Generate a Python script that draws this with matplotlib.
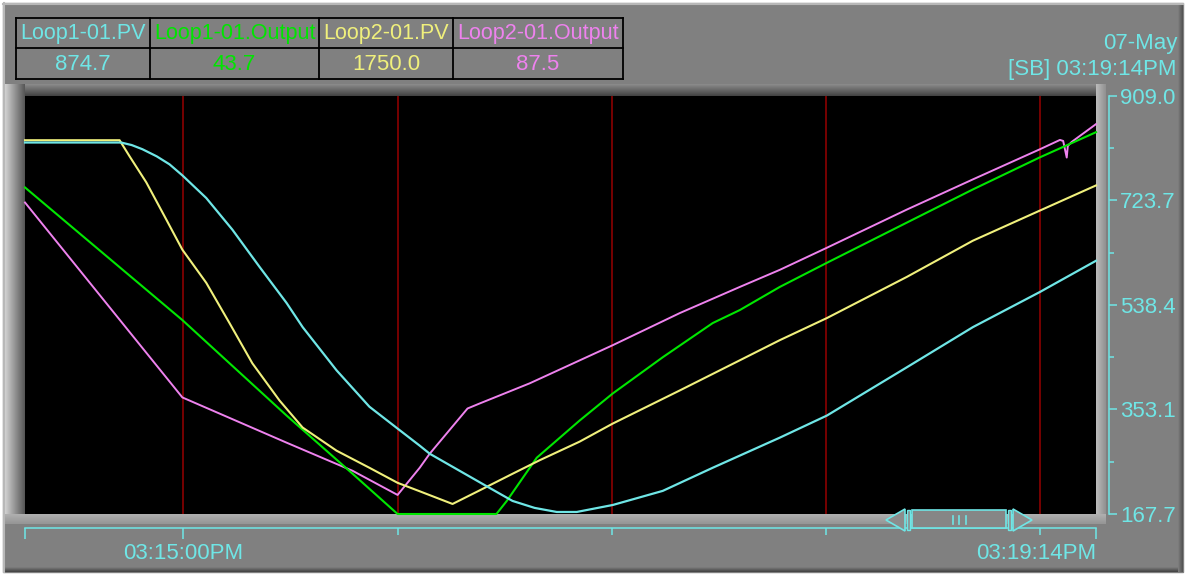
import matplotlib
matplotlib.use("Agg")
import matplotlib.pyplot as plt
import numpy as np
from matplotlib.patches import Rectangle, Polygon
from matplotlib.colors import to_rgb

plt.rcParams['font.family'] = ['Liberation Sans', 'DejaVu Sans']

# pens shown in the header table
pen_names = ['Loop1-01.PV', 'Loop1-01.Output', 'Loop2-01.PV', 'Loop2-01.Output']
pen_values = ['874.7', '43.7', '1750.0', '87.5']
pen_colors = ['#6fe6e6', '#00e600', '#f0f07c', '#ee82ee']

# time is in seconds after 03:15:00PM
t_pv1 = [-44.4, -17.5, -14.5, -11.5, -7.5, -3.9, -0.3, 6.4, 13.7, 21.3, 28.9, 33.4, 42.9, 52.1,
         60.0, 66.2, 69.0, 83.8, 92.2, 98.4, 104.6, 110.2, 120.3, 134.3, 148.3,
         167.1, 180.3, 202.7, 221.2, 240.0, 255.7]
v_pv1 = [826.5, 826.5, 822.0, 814.6, 802.0, 787.8, 768.2, 728.0, 672.0, 606.1, 541.9, 499.1, 422.5, 358.0,
         319.2, 288.9, 274.6, 221.1, 190.9, 178.5, 171.3, 171.3, 183.7, 208.7, 249.7,
         303.1, 342.3, 427.9, 499.1, 561.5, 616.8]

t_out1 = [-44.4, -0.3, 28.9, 47.4, 60.0, 87.7, 90.6, 99.0, 111.0, 120.3, 134.3, 148.3,
          155.9, 167.1, 180.3, 202.7, 221.2, 240.0, 255.7]
v_out1 = [746.8, 511.6, 342.3, 239.0, 167.7, 167.7, 190.9, 267.5, 333.4, 381.5, 445.7, 506.3,
          529.4, 570.4, 613.2, 684.5, 743.3, 800.3, 844.8]

t_pv2 = [-44.4, -17.9, -15.1, -10.4, -4.8, -0.3, 6.4, 12.9, 19.3, 26.9, 33.4, 42.9, 52.1,
         60.0, 66.2, 75.4, 83.0, 92.2, 99.8, 111.0, 120.3, 139.1, 155.9, 167.1, 180.3,
         202.7, 221.2, 240.0, 255.7]
v_pv2 = [830.6, 830.6, 802.1, 755.7, 689.8, 636.4, 577.6, 506.3, 435.0, 369.1, 321.0, 280.0, 249.7,
         223.0, 208.0, 185.5, 209.6, 239.0, 263.0, 296.0, 328.1, 386.9, 440.3, 476.0, 515.2,
         588.2, 652.4, 705.9, 750.4]

t_out2 = [-44.4, -0.3, 28.9, 47.4, 60.0, 66.2, 69.0, 79.6, 83.0, 97.0, 120.3, 139.1, 155.9,
          167.1, 180.3, 202.7, 221.2, 240.0, 245.6, 246.5, 247.5, 247.8, 248.9, 251.2, 255.7]
v_out2 = [720.1, 374.4, 294.2, 244.3, 201.5, 249.7, 274.6, 354.8, 363.7, 399.4, 467.1, 524.1, 570.4,
          600.7, 639.9, 707.6, 761.1, 814.6, 831.1, 829.3, 799.8, 820.4, 827.6, 838.3, 859.1]

y_ticks = [167.7, 353.1, 538.4, 723.7, 909.0]
t_start, t_end = -44.4, 255.7
grid_t = [0, 60, 120, 180, 240]
time_labels = ['03:15:00PM', '03:19:14PM']
date_text = '07-May'
cursor_text = '[SB] 03:19:14PM'

cyan = '#6fe6e6'
fs = 16
W, H = 1186, 575
fig = plt.figure(figsize=(W / 100, H / 100), dpi=100, facecolor='white')


def grad(ax, x0, x1, y0, y1, c0, c1, horizontal=True):
    c = np.linspace(to_rgb(c0), to_rgb(c1), 64)
    img = c[None, :, :] if horizontal else c[:, None, :]
    ax.imshow(img, extent=(x0, x1, y1, y0), origin='upper', aspect='auto',
              interpolation='bilinear', zorder=2)


# background panel with bevels (pixel coordinates)
bg = fig.add_axes([0, 0, 1, 1])
bg.add_patch(Rectangle((3, 3), W - 6, H - 6, color='#808080', zorder=1))
grad(bg, 3, W - 3, H - 8, H - 3, '#808080', '#404040', horizontal=False)
grad(bg, W - 8, W - 3, 3, H - 3, '#808080', '#505050')
grad(bg, 4, 26, 84, 524, '#d8d8d8', '#505050')
grad(bg, 25, 1106, 84, 97, '#8c8c8c', '#3c3c3c', horizontal=False)
grad(bg, 1096, 1106, 84, 524, '#bcbcbc', '#909090')
grad(bg, 4, 1106, 514, 524, '#b0b0b0', '#959595', horizontal=False)
bg.plot([3, W - 3], [4, 4], color='#b8b8b8', lw=1.5, zorder=3)
bg.plot([4, 4], [3, H - 3], color='#b8b8b8', lw=1.5, zorder=3)

# header table
col_x = [16, 150, 319, 453, 623]
row_y = [18, 48, 79]
for i in range(len(pen_names)):
    xc = (col_x[i] + col_x[i + 1]) / 2
    bg.text(xc, (row_y[0] + row_y[1]) / 2 + 1, pen_names[i], color=pen_colors[i],
            fontsize=15.5, ha='center', va='center', zorder=4)
    bg.text(xc, (row_y[1] + row_y[2]) / 2 + 1, pen_values[i], color=pen_colors[i],
            fontsize=fs, ha='center', va='center', zorder=4)
for x in col_x:
    bg.plot([x, x], [row_y[0], row_y[-1]], color='black', lw=1.3, zorder=4)
for y in row_y:
    bg.plot([col_x[0], col_x[-1]], [y, y], color='black', lw=1.3, zorder=4)

bg.text(1177, 43, date_text, color=cyan, fontsize=fs, ha='right', va='center', zorder=4)
bg.text(1177, 69, cursor_text, color=cyan, fontsize=fs, ha='right', va='center', zorder=4)
bg.set_xlim(0, W)
bg.set_ylim(H, 0)
bg.axis('off')

# trend area
ax = fig.add_axes([25 / W, 1 - 514 / H, (1096 - 25) / W, (514 - 96) / H])
ax.set_facecolor('black')
for t in grid_t:
    ax.axvline(t, color='#8b0000', lw=1.2)
ax.plot(t_out2, v_out2, color=pen_colors[3], lw=1.4, clip_on=False)
ax.plot(t_out1, v_out1, color=pen_colors[1], lw=1.5, clip_on=False)
ax.plot(t_pv2, v_pv2, color=pen_colors[2], lw=1.5, clip_on=False)
ax.plot(t_pv1, v_pv1, color=pen_colors[0], lw=1.6, clip_on=False)
ax.set_xlim(t_start, t_end)
ax.set_ylim(y_ticks[0], y_ticks[-1])

for s in ['left', 'top']:
    ax.spines[s].set_visible(False)
ax.spines['right'].set_position(('outward', 9.4))
ax.spines['bottom'].set_position(('outward', 9.9))
for s in ['right', 'bottom']:
    ax.spines[s].set_color(cyan)
    ax.spines[s].set_linewidth(1.1)

ax.yaxis.tick_right()
ax.set_yticks(y_ticks, [f'{v:.1f}' for v in y_ticks])
ax.set_yticks([(a + b) / 2 for a, b in zip(y_ticks[:-1], y_ticks[1:])], minor=True)
ax.tick_params(axis='y', which='major', direction='out', length=5.8, width=1.1, color=cyan,
               labelcolor=cyan, labelsize=fs, pad=2)
ax.tick_params(axis='y', which='minor', direction='out', length=3.6, width=1.1, color=cyan)

ax.set_xticks([t_start, grid_t[0], t_end], ['', time_labels[0], time_labels[1]])
ax.set_xticks(grid_t[1:], minor=True)
ax.tick_params(axis='x', which='major', direction='out', length=8, width=1.1, color=cyan,
               labelcolor=cyan, labelsize=fs, pad=3)
ax.tick_params(axis='x', which='minor', direction='out', length=5, width=1.1, color=cyan)
ax.get_xticklabels()[2].set_ha('right')

# scroll widget drawn on top
ov = fig.add_axes([0, 0, 1, 1])
ov.patch.set_alpha(0)
ov.add_patch(Polygon([(905, 509), (886, 520), (905, 531)], closed=True, fc='#8c8c8c', ec=cyan, lw=1.2))
ov.add_patch(Rectangle((907, 510), 3, 20, fc='#8c8c8c', ec=cyan, lw=1.0))
ov.add_patch(Rectangle((912, 510), 94, 18, fc='#868686', ec=cyan, lw=1.2))
for x in [953, 959, 966]:
    ov.plot([x, x], [516, 524], color=cyan, lw=1.2)
ov.add_patch(Rectangle((1008, 510), 3, 20, fc='#8c8c8c', ec=cyan, lw=1.0))
ov.add_patch(Polygon([(1013, 509), (1032, 520), (1013, 531)], closed=True, fc='#8c8c8c', ec=cyan, lw=1.2))
ov.set_xlim(0, W)
ov.set_ylim(H, 0)
ov.axis('off')

fig.savefig('out.png', dpi=100, facecolor='white')
